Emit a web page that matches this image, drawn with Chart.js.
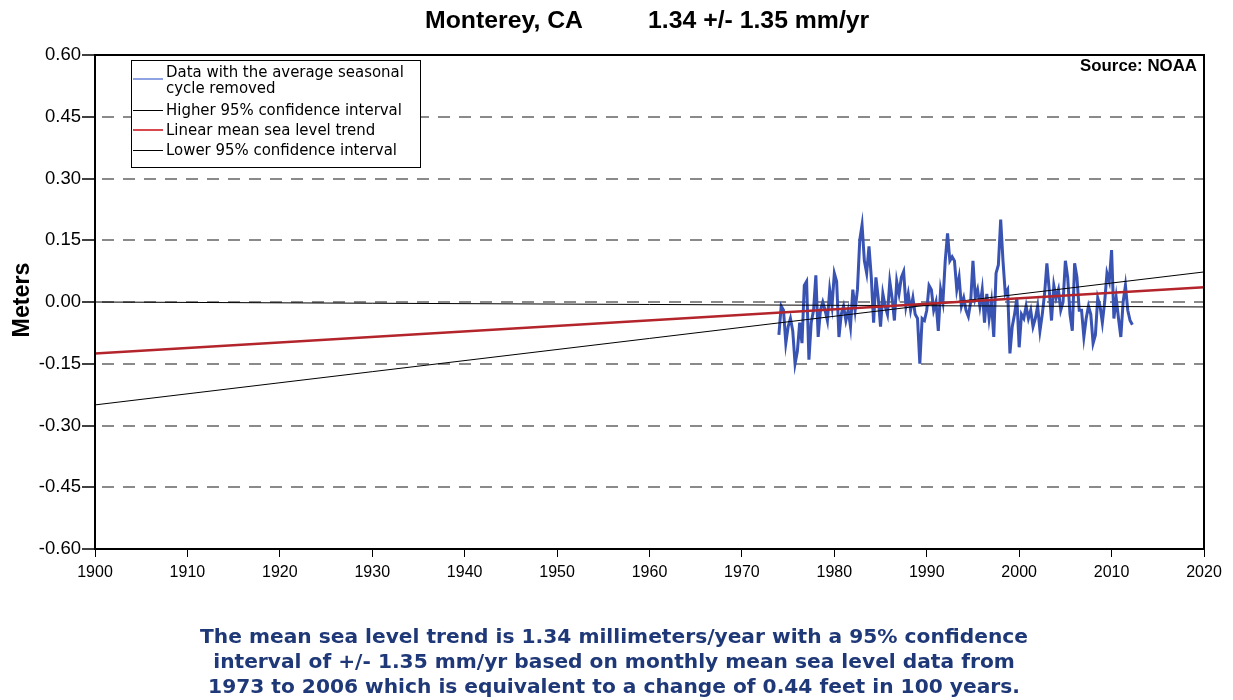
<!DOCTYPE html>
<html>
<head>
<meta charset="utf-8">
<title>Monterey, CA - nivel medio del mar</title>
<script src="https://cdn.jsdelivr.net/npm/chart.js@4.4.0/dist/chart.umd.min.js"></script>
<style>
  body { margin: 0; background: #fff; }
  #grafica { width: 1233px; height: 700px; }
</style>
</head>
<body>
<div id="grafica"><canvas id="myChart" width="1233" height="700"></canvas></div>
<script>
// datos (promedios trimestrales aprox.)
const startYear = 1974;
const stepYear = 0.25;
const seaLevel = [
  -0.08, -0.01, -0.02, -0.10,
  -0.06, -0.04, -0.07, -0.15,
  -0.12, -0.05, -0.10, 0.04,
  0.05, -0.14, -0.05, -0.02,
  0.065, -0.085, -0.02, 0.00,
  -0.02, -0.045, 0.03, -0.01,
  0.07, 0.05, -0.085, -0.03,
  -0.01, -0.045, -0.02, -0.06,
  0.03, -0.02, 0.03, 0.15,
  0.187, 0.10, 0.07, 0.135,
  0.06, -0.05, 0.06, 0.01,
  -0.06, 0.02, -0.01, -0.03,
  0.05, 0.01, -0.045, 0.05,
  0.02, 0.06, 0.074, -0.01,
  0.02, -0.02, 0.01, -0.03,
  -0.04, -0.15, -0.04, -0.045,
  -0.02, 0.04, 0.03, -0.02,
  0.00, -0.07, 0.03, 0.00,
  0.10, 0.167, 0.10, 0.11,
  0.10, 0.03, 0.06, -0.01,
  0.01, -0.02, -0.035, 0.00,
  0.10, 0.01, 0.03, -0.01,
  0.03, -0.05, 0.02, -0.04,
  0.00, -0.085, 0.07, 0.09,
  0.20, 0.10, 0.02, 0.03,
  -0.125, -0.06, -0.03, 0.01,
  -0.11, -0.03, -0.04, -0.01,
  -0.04, -0.02, -0.06, -0.04,
  -0.01, -0.07, -0.03, 0.02,
  0.094, 0.03, -0.045, 0.04,
  0.01, 0.03, -0.02, 0.00,
  0.10, 0.06, -0.03, -0.07,
  0.094, 0.06, -0.02, -0.02,
  -0.085, -0.04, -0.01, -0.03,
  -0.10, -0.08, 0.01, -0.01,
  -0.05, 0.00, 0.07, 0.05,
  0.126, -0.04, 0.01, -0.04,
  -0.085, 0.00, 0.04, -0.02,
  -0.045, -0.055
];

const lineYears = [1900, 2020];
const higherCI = [-0.250, 0.073];
const trend = [-0.125, 0.036];
const lowerCI = [0.000, -0.012];

const titulo1 = 'Monterey, CA';
const titulo2 = '1.34 +/- 1.35 mm/yr';
const fuente = 'Source: NOAA';
const ejeY = 'Meters';
const leyenda = [
  ['Data with the average seasonal', 'cycle removed'],
  ['Higher 95% confidence interval'],
  ['Linear mean sea level trend'],
  ['Lower 95% confidence interval']
];
const notas = [
  'The mean sea level trend is 1.34 millimeters/year with a 95% confidence',
  'interval of +/- 1.35 mm/yr based on monthly mean sea level data from',
  '1973 to 2006 which is equivalent to a change of 0.44 feet in 100 years.'
];

const azul = '#3953b3';
const rojo = '#b3242b';

const toPoints = (xs, ys) => ys.map((v, i) => ({ x: xs[i], y: v }));
const serie = seaLevel.map((v, i) => ({ x: startYear + i * stepYear, y: v }));

function fitFont(ctx, text, width, weight, family) {
  ctx.font = `${weight} 100px ${family}`;
  const size = 100 * width / ctx.measureText(text).width;
  return `${weight} ${size.toFixed(2)}px ${family}`;
}

const textos = {
  id: 'textos',
  beforeDraw(chart) {
    const ctx = chart.ctx;
    ctx.save();
    ctx.fillStyle = '#fff';
    ctx.fillRect(0, 0, chart.width, chart.height);
    ctx.restore();
  },
  afterDraw(chart) {
    const ctx = chart.ctx;
    const a = chart.chartArea;
    ctx.save();
    ctx.setLineDash([]);

    // marco
    ctx.strokeStyle = '#000';
    ctx.lineWidth = 2;
    ctx.strokeRect(a.left, a.top, a.right - a.left, a.bottom - a.top);

    // titulo
    ctx.fillStyle = '#000';
    ctx.textBaseline = 'middle';
    ctx.textAlign = 'left';
    ctx.font = fitFont(ctx, titulo1, 158, 'bold', '"Liberation Sans", Arial, sans-serif');
    ctx.fillText(titulo1, 425, 21);
    ctx.fillText(titulo2, 648, 21);

    // fuente
    ctx.font = fitFont(ctx, fuente, 117, 'bold', '"Liberation Sans", Arial, sans-serif');
    ctx.textAlign = 'right';
    ctx.fillText(fuente, 1197, 66);

    // eje Y
    ctx.save();
    ctx.translate(23, 300);
    ctx.rotate(-Math.PI / 2);
    ctx.textAlign = 'center';
    ctx.font = fitFont(ctx, ejeY, 75, 'bold', '"Liberation Sans", Arial, sans-serif');
    ctx.fillText(ejeY, 0, 0);
    ctx.restore();

    // leyenda
    ctx.fillStyle = '#fff';
    ctx.fillRect(131.5, 60.5, 289, 107);
    ctx.strokeStyle = '#000';
    ctx.lineWidth = 1;
    ctx.strokeRect(131.5, 60.5, 289, 107);
    ctx.font = fitFont(ctx, leyenda[1][0], 236, 'normal', '"DejaVu Sans Condensed", "DejaVu Sans", sans-serif');
    ctx.textAlign = 'left';
    ctx.fillStyle = '#000';
    const muestras = [
      { color: '#8fa3e3', w: 2, ly: 79, ty: [73, 89] },
      { color: '#000', w: 1, ly: 110.5, ty: [111] },
      { color: '#d9484f', w: 2, ly: 130, ty: [131] },
      { color: '#000', w: 1, ly: 150.5, ty: [151] }
    ];
    muestras.forEach((m, i) => {
      ctx.strokeStyle = m.color;
      ctx.lineWidth = m.w;
      ctx.beginPath();
      ctx.moveTo(133, m.ly);
      ctx.lineTo(163, m.ly);
      ctx.stroke();
      leyenda[i].forEach((t, j) => ctx.fillText(t, 166, m.ty[j]));
    });

    // notas
    ctx.fillStyle = '#1f3877';
    ctx.textAlign = 'center';
    ctx.font = fitFont(ctx, notas[0], 829, 'bold', '"DejaVu Sans", Verdana, sans-serif');
    notas.forEach((t, i) => ctx.fillText(t, 614, 638 + i * 25));

    ctx.restore();
  }
};

new Chart(document.getElementById('myChart'), {
  type: 'line',
  data: {
    datasets: [
      {
        label: 'Data with the average seasonal cycle removed',
        data: serie,
        borderColor: azul,
        borderWidth: 3,
        pointRadius: 0,
        tension: 0,
        order: 10
      },
      {
        label: 'Higher 95% confidence interval',
        data: toPoints(lineYears, higherCI),
        borderColor: '#000',
        borderWidth: 1,
        pointRadius: 0,
        order: 1
      },
      {
        label: 'Linear mean sea level trend',
        data: toPoints(lineYears, trend),
        borderColor: rojo,
        borderWidth: 2.5,
        pointRadius: 0,
        order: 0
      },
      {
        label: 'Lower 95% confidence interval',
        data: toPoints(lineYears, lowerCI),
        borderColor: '#000',
        borderWidth: 1,
        pointRadius: 0,
        order: 1
      }
    ]
  },
  options: {
    responsive: false,
    animation: false,
    devicePixelRatio: 1,
    layout: { padding: { left: 0, right: 29, top: 55, bottom: 121 } },
    plugins: {
      legend: { display: false },
      tooltip: { enabled: false },
      title: { display: false }
    },
    scales: {
      x: {
        type: 'linear',
        min: 1900,
        max: 2020,
        afterFit: s => { s.height = 30; },
        border: { display: true, color: '#000', width: 2 },
        grid: { drawOnChartArea: false, drawTicks: true, tickLength: 8, tickColor: '#000', tickWidth: 1 },
        ticks: {
          stepSize: 10,
          autoSkip: false,
          maxRotation: 0,
          padding: 6,
          color: '#000',
          font: { family: '"Liberation Sans", Arial, sans-serif', size: 16 },
          callback: v => String(v)
        }
      },
      y: {
        min: -0.6,
        max: 0.6,
        afterFit: s => { s.width = 95; },
        border: { display: true, color: '#000', width: 2, dash: [12, 9], dashOffset: 15 },
        grid: {
          color: c => (c.tick && Math.abs(Math.abs(c.tick.value) - 0.6) < 1e-6) ? 'rgba(0,0,0,0)' : '#8a8a8a',
          lineWidth: 2,
          drawTicks: true,
          tickLength: 13,
          tickColor: '#000',
          tickWidth: 1.5,
          tickBorderDash: []
        },
        ticks: {
          stepSize: 0.15,
          padding: 1,
          color: '#000',
          font: { family: '"Liberation Sans", Arial, sans-serif', size: 18.5 },
          callback: v => v.toFixed(2)
        }
      }
    }
  },
  plugins: [textos]
});
</script>
</body>
</html>
